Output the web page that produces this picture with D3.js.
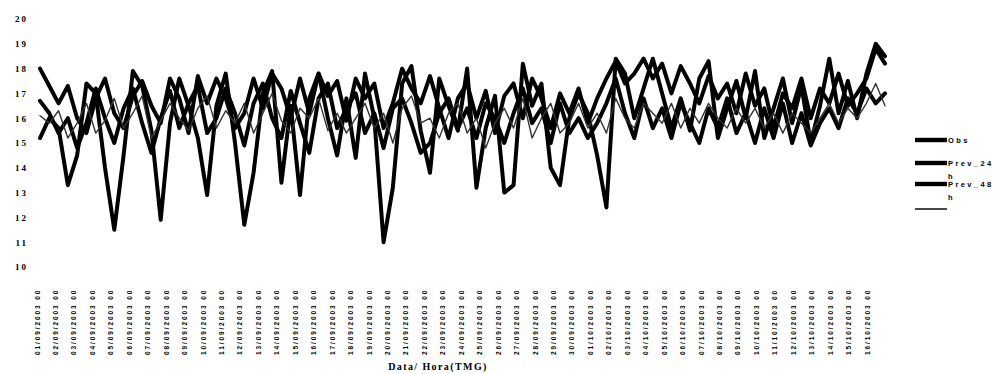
<!DOCTYPE html>
<html>
<head>
<meta charset="utf-8">
<script src="https://cdn.jsdelivr.net/npm/d3@7"></script>
<style>
  body { margin: 0; background: #fff; }
  svg { display: block; }
  text { fill: #000; }
</style>
</head>
<body>
<div id="graf"></div>
<script>
// dados (temperatura, 2 pontos por dia)
const obs = [
  15.2, 16.0, 15.6, 13.3, 14.5, 17.4, 17.0, 14.0, 11.5, 14.5,
  17.9, 17.3, 15.5, 11.9, 15.8, 17.6, 16.5, 15.2, 12.9, 16.5,
  17.8, 15.0, 11.7, 13.8, 17.0, 17.9, 13.4, 16.5, 12.9, 16.8,
  17.8, 16.0, 14.5, 16.8, 14.4, 17.8, 16.0, 11.0, 13.2, 17.4,
  18.1, 15.5, 13.8, 17.6, 16.5, 15.5, 18.0, 13.2, 15.6, 16.9,
  13.0, 13.3, 18.2, 16.5, 17.4, 14.0, 13.3, 16.0, 17.0, 16.2,
  14.5, 12.4, 18.4, 17.8, 16.0, 17.2, 18.4, 17.0, 15.6, 16.8,
  15.5, 17.6, 18.3, 15.2, 16.4, 17.5, 16.0, 17.9, 15.2, 16.4,
  17.6, 15.8, 17.3, 15.0, 16.5, 18.4, 16.2, 17.5, 16.0, 17.8,
  19.0, 18.5
]
const prev24 = [
  18.0, 17.3, 16.6, 17.3, 16.0, 15.4, 16.8, 17.6, 16.2, 15.6,
  16.9, 17.5, 16.5, 15.8, 17.6, 16.8, 15.4, 17.7, 16.6, 17.6,
  16.8, 15.6, 16.2, 17.6, 16.4, 17.8, 17.2, 16.0, 17.6, 16.2,
  17.8, 16.9, 17.5, 15.9, 17.6, 16.8, 17.4, 15.6, 16.6, 18.0,
  17.2, 16.6, 17.7, 16.4, 15.2, 16.8, 17.4, 16.0, 17.1, 15.4,
  16.9, 17.4, 16.0, 17.6, 16.8, 15.6, 17.0, 16.2, 17.2, 15.8,
  16.8, 17.6, 18.3, 17.4, 17.8, 18.4, 17.6, 18.2, 17.0, 18.1,
  17.4, 16.6, 17.7, 16.8, 17.4, 16.2, 17.8, 16.5, 17.2, 15.6,
  17.0, 16.4, 17.6, 16.0, 17.2, 16.6, 17.8, 16.5, 17.0, 17.6,
  18.8, 18.2
]
const prev48 = [
  16.7, 16.2, 15.4, 16.0, 14.8, 15.8, 17.2, 16.0, 15.0, 16.4,
  17.2, 15.8, 14.6, 16.0, 17.1, 15.6, 16.6, 17.3, 15.4, 16.0,
  17.2, 16.2, 14.9, 16.6, 17.4, 16.0, 15.2, 17.1, 15.8, 14.6,
  16.8, 17.4, 15.6, 16.4, 17.0, 15.4, 16.2, 14.8, 16.4, 16.8,
  15.8, 14.6, 15.0, 16.2, 16.8, 15.6, 16.4, 15.2, 16.6, 16.0,
  15.0, 16.2, 17.2, 15.8, 16.4, 15.0, 16.6, 15.4, 16.0, 15.2,
  15.8, 16.6, 17.6, 16.2, 15.2, 16.8, 15.6, 16.4, 15.2, 16.6,
  15.8, 15.0, 16.4, 15.6, 16.8, 15.4, 16.2, 15.0, 16.4, 15.2,
  16.6, 15.0, 16.2, 14.9, 15.8, 16.4, 15.6, 16.8, 16.2, 17.2,
  16.6, 17.0
]
const prev72 = [
  16.1, 15.8, 16.3, 15.2, 15.8, 16.6, 15.4, 15.9, 16.8, 15.6,
  16.2, 16.9, 15.2, 15.9, 16.6, 16.0, 15.5, 16.4, 16.9, 15.6,
  16.3, 15.8, 16.6, 15.4, 16.2, 17.0, 15.9, 15.4, 16.4, 16.0,
  16.8, 15.5, 16.2, 15.4, 16.0, 16.6, 15.6, 16.2, 15.0, 16.4,
  16.9, 15.8, 16.0, 15.2, 16.2, 16.6, 15.4, 16.0, 14.8, 15.8,
  16.4, 15.6, 16.8, 15.2, 16.0, 16.6, 15.4, 15.8, 16.6, 15.6,
  16.2, 15.4, 16.8, 16.0, 15.6, 16.6, 16.2, 15.8, 16.6, 15.6,
  16.4, 15.8, 16.6, 16.0, 15.6, 16.4, 15.8, 16.4, 15.6, 16.2,
  15.4, 16.2, 15.8, 15.4, 16.0, 16.6, 15.8, 16.4, 16.0, 16.6,
  17.4, 16.5
]

const diasLabels = [
  '01/09/2003 00', '02/09/2003 00', '03/09/2003 00', '04/09/2003 00', '05/09/2003 00',
  '06/09/2003 00', '07/09/2003 00', '08/09/2003 00', '09/09/2003 00', '10/09/2003 00',
  '11/09/2003 00', '12/09/2003 00', '13/09/2003 00', '14/09/2003 00', '15/09/2003 00',
  '16/09/2003 00', '17/09/2003 00', '18/09/2003 00', '19/09/2003 00', '20/09/2003 00',
  '21/09/2003 00', '22/09/2003 00', '23/09/2003 00', '24/09/2003 00', '25/09/2003 00',
  '26/09/2003 00', '27/09/2003 00', '28/09/2003 00', '29/09/2003 00', '30/09/2003 00',
  '01/10/2003 00', '02/10/2003 00', '03/10/2003 00', '04/10/2003 00', '05/10/2003 00',
  '06/10/2003 00', '07/10/2003 00', '08/10/2003 00', '09/10/2003 00', '10/10/2003 00',
  '11/10/2003 00', '12/10/2003 00', '13/10/2003 00', '14/10/2003 00', '15/10/2003 00',
  '16/10/2003 00'
]
const yTicks = [10, 11, 12, 13, 14, 15, 16, 17, 18, 19, 20]

const series = [
  { nome: 'Obs', valores: obs, largura: 4, cor: '#000' },
  { nome: 'Prev_24h', valores: prev24, largura: 4, cor: '#000' },
  { nome: 'Prev_48h', valores: prev48, largura: 4, cor: '#000' },
  { nome: '', valores: prev72, largura: 1.4, cor: '#333' }
]

const ancho = 1000
const alto = 374

const svg = d3.select('#graf').append('svg')
    .attr('width', ancho)
    .attr('height', alto)

const y = d3.scaleLinear().domain([10, 20]).range([267, 19])
// eixo dos pontos (meio dia por ponto)
const x = d3.scaleLinear().domain([0, obs.length - 1]).range([40, 885])
// eixo das etiquetas (um dia por etiqueta)
const xDia = d3.scaleLinear().domain([0, diasLabels.length - 1]).range([37, 867])

// eixo y, so os numeros
const ejeY = d3.axisLeft(y).tickValues(yTicks).tickSize(0).tickPadding(0)
svg.append('g')
    .attr('transform', 'translate(28,0)')
    .call(ejeY)
    .call(g => g.select('.domain').remove())
    .selectAll('text')
    .attr('font-family', 'Liberation Serif')
    .attr('font-weight', 'bold')
    .attr('font-size', 9)
    .attr('letter-spacing', 2)
    .attr('fill', '#000')

// linhas
const linea = d3.line()
    .x((d, i) => x(i))
    .y(d => y(d))

svg.append('g').selectAll('path')
    .data(series)
    .enter()
    .append('path')
    .attr('d', d => linea(d.valores))
    .attr('fill', 'none')
    .attr('stroke', d => d.cor)
    .attr('stroke-width', d => d.largura)
    .attr('stroke-linejoin', 'round')
    .attr('stroke-linecap', 'round')

// etiquetas do eixo x (verticais)
svg.append('g').selectAll('text')
    .data(diasLabels)
    .enter()
    .append('text')
    .attr('transform', (d, i) => `translate(${xDia(i) + 2.5},355) rotate(-90)`)
    .attr('font-family', 'Liberation Sans')
    .attr('font-weight', 'bold')
    .attr('font-size', 6.5)
    .attr('letter-spacing', 1.9)
    .text(d => d)

svg.append('text')
    .attr('x', 438)
    .attr('y', 370)
    .attr('text-anchor', 'middle')
    .attr('font-family', 'Liberation Serif')
    .attr('font-weight', 'bold')
    .attr('font-size', 10)
    .attr('letter-spacing', 1.4)
    .text('Data/ Hora(TMG)')

// legenda
const leyenda = svg.append('g').attr('transform', 'translate(915,140)')
const filas = [0, 23, 44, 69]
const items = leyenda.selectAll('g')
    .data(series)
    .enter()
    .append('g')
    .attr('transform', (d, i) => `translate(0,${filas[i]})`)

items.append('line')
    .attr('x1', 0).attr('x2', 32)
    .attr('stroke', d => d.cor)
    .attr('stroke-width', d => d.largura + 0.4)

items.append('text')
    .attr('x', 33)
    .attr('y', 3)
    .attr('font-family', 'Liberation Sans')
    .attr('font-weight', 'bold')
    .attr('font-size', 7.5)
    .attr('letter-spacing', 2.4)
    .each(function (d) {
        const t = d3.select(this)
        if (d.nome.endsWith('h')) {
            t.append('tspan').text(d.nome.slice(0, -1))
            t.append('tspan').attr('x', 33).attr('dy', 13).text('h')
        } else {
            t.text(d.nome)
        }
    })
</script>
</body>
</html>
